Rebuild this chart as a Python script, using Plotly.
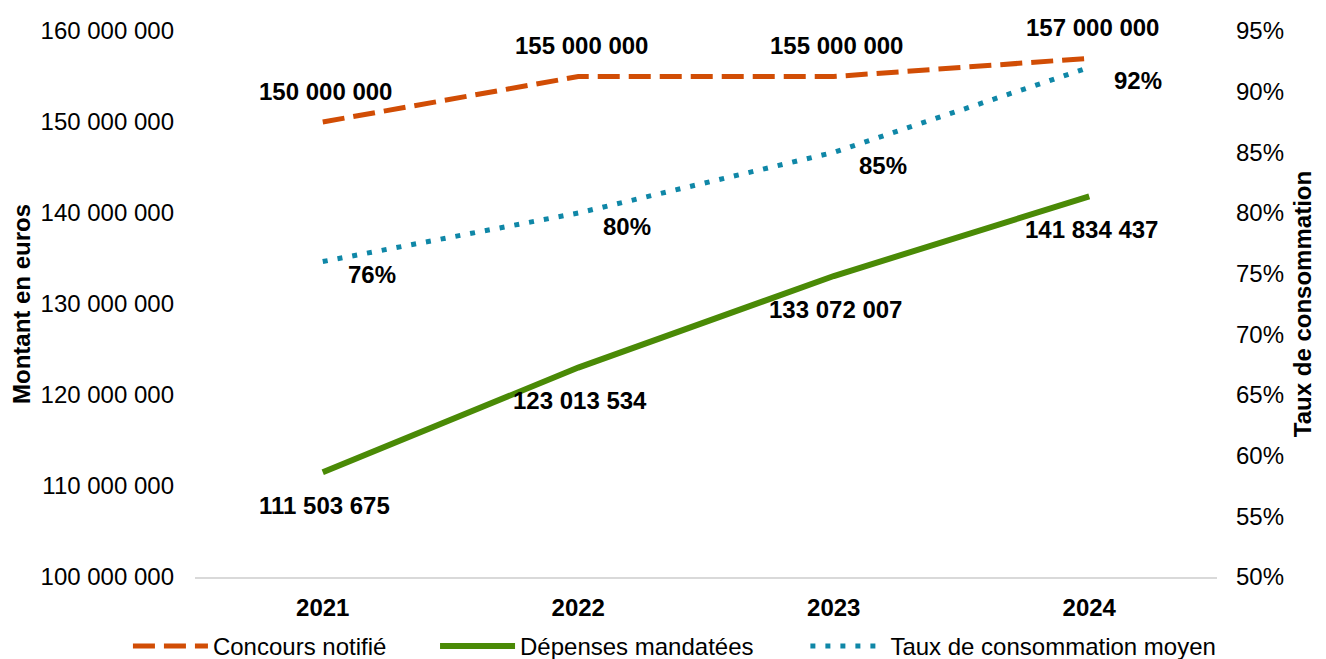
import plotly.graph_objects as go

annees = ["2021", "2022", "2023", "2024"]
concours_notifie = [150000000, 155000000, 155000000, 157000000]
depenses_mandatees = [111503675, 123013534, 133072007, 141834437]
taux_consommation = [0.76, 0.80, 0.85, 0.92]

left_ticks = [100000000, 110000000, 120000000, 130000000, 140000000, 150000000, 160000000]


def fmt_euros(v):
    return f"{v:,}".replace(",", " ")


ORANGE = "#D14D05"
GREEN = "#4A8A06"
BLUE = "#0F87A7"
FONT = "Liberation Sans, Arial, sans-serif"
FS = 24

fig = go.Figure()

# one legend per series so each entry can be placed like the original
fig.add_trace(go.Scatter(
    x=annees, y=concours_notifie, mode="lines", name="Concours notifié",
    line=dict(color=ORANGE, width=5, dash="22px,9px"), legend="legend",
))
fig.add_trace(go.Scatter(
    x=annees, y=depenses_mandatees, mode="lines", name="Dépenses mandatées",
    line=dict(color=GREEN, width=6), legend="legend2",
))
fig.add_trace(go.Scatter(
    x=annees, y=taux_consommation, mode="lines", name="Taux de consommation moyen",
    line=dict(color=BLUE, width=5, dash="5px,10px"), yaxis="y2", legend="legend3",
))

# data labels (x given as category index)
annotations = []
for i, v in enumerate(concours_notifie):
    annotations.append(dict(x=i, y=v, xref="x", yref="y", text=f"<b>{fmt_euros(v)}</b>",
                            showarrow=False, yshift=31, xshift=3))
for i, v in enumerate(depenses_mandatees):
    annotations.append(dict(x=i, y=v, xref="x", yref="y", text=f"<b>{fmt_euros(v)}</b>",
                            showarrow=False, yshift=-33, xshift=2))
for i, v in enumerate(taux_consommation):
    annotations.append(dict(x=i, y=v, xref="x", yref="y2", text=f"<b>{round(v * 100)}%</b>",
                            showarrow=False, yshift=-13, xshift=49))


def legend_at(x):
    return dict(orientation="h", x=x, xanchor="left", xref="container",
                y=0, yanchor="bottom", yref="container",
                bgcolor="rgba(0,0,0,0)", font=dict(size=FS), itemwidth=75)


# page body has an 8px margin: figure offset by 8px, margins adjusted for it
fig.update_layout(
    width=1318, height=661,
    margin=dict(l=187, r=109, t=23, b=92),
    paper_bgcolor="white", plot_bgcolor="white",
    font=dict(family=FONT, size=FS, color="#000000"),
    showlegend=True,
    legend=legend_at(0.091),
    legend2=legend_at(0.324),
    legend3=legend_at(0.605),
    annotations=annotations,
    xaxis=dict(
        type="category", range=[-0.5, 3.5], showgrid=False, automargin=False,
        showline=True, linecolor="#D9D9D9", linewidth=2, ticks="",
        tickfont=dict(size=FS), tickprefix="<b>", ticksuffix="</b>",
        ticklabelstandoff=8,
    ),
    yaxis=dict(
        range=[100000000, 160000000], tickvals=left_ticks,
        ticktext=[fmt_euros(v) for v in left_ticks], automargin=False,
        showgrid=False, zeroline=False, showline=False, ticks="",
        ticklabelstandoff=20,
        title=dict(text="<b>Montant en euros</b>", standoff=10, font=dict(size=FS)),
    ),
    yaxis2=dict(
        overlaying="y", side="right", range=[0.5, 0.95], dtick=0.05, automargin=False,
        tickformat=".0%", showgrid=False, zeroline=False, showline=False, ticks="",
        ticklabelstandoff=18,
        title=dict(text="<b>Taux de consommation</b>", standoff=11, font=dict(size=FS)),
    ),
)

fig.write_html("out.html")
